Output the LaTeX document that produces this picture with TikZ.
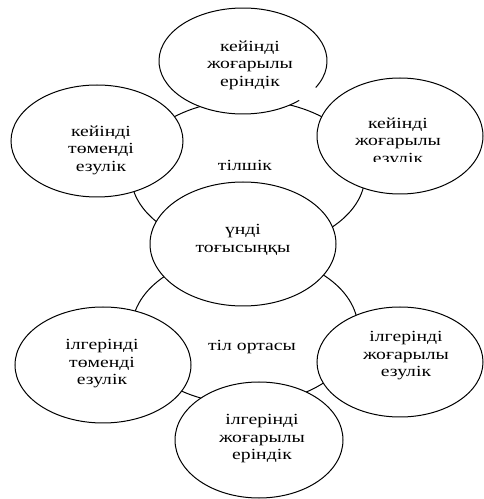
\documentclass[tikz,border=0pt]{standalone}
\usepackage{fontspec}
\setmainfont[FakeStretch=1.27]{Liberation Serif}
\usetikzlibrary{shapes.geometric}
\begin{document}
\begin{tikzpicture}[x=1pt,y=1pt,
  ell/.style={draw,ellipse,line width=1pt,inner sep=0pt},
  wfill/.style={ell,fill=white},
  txt/.style={align=center,inner sep=0pt,font=\fontsize{15.5}{17.5}\selectfont}]
\useasboundingbox (0,0) rectangle (483,499);
% rings
\node[ell,minimum width=234,minimum height=150] (ring1) at (248,324) {};
\node[ell,minimum width=226,minimum height=150] (ring2) at (245,170) {};
\node[txt] (tring1) at (245,334) {тілшік};
\node[txt] (tring2) at (252,152) {тіл ортасы};
% center
\node[wfill,minimum width=186,minimum height=124] (cen) at (243,255) {};
\node[txt] (tcen) at (243,259) {үнді\\тоғысыңқы};
% outer ellipses
\node[ell,draw=none,fill=white,minimum width=168,minimum height=106] (top) at (243,438) {};
\draw[line width=1pt] (top.center) ++(-30:84 and 53)
  arc[start angle=-30, end angle=312, x radius=84, y radius=53];
\node[txt] (ttop) at (250,434) {кейінді\\жоғарылы\\еріндік};
\node[wfill,minimum width=172,minimum height=112] (ltop) at (97,358) {};
\node[txt] (tltop) at (101,349) {кейінді\\төменді\\езулік};
\node[wfill,minimum width=166,minimum height=116] (rtop) at (400,363) {};
\begin{scope}
\clip (317,337) rectangle (483,420);
\node[txt] (trtop) at (398,357) {кейінді\\жоғарылы\\езулік};
\end{scope}
\node[wfill,minimum width=176,minimum height=116] (lbot) at (103,134) {};
\node[txt] (tlbot) at (102,135) {ілгерінді\\төменді\\езулік};
\node[wfill,minimum width=166,minimum height=110] (rbot) at (400,137) {};
\node[txt] (trbot) at (406,143) {ілгерінді\\жоғарылы\\езулік};
\node[wfill,minimum width=168,minimum height=116] (bot) at (259,59) {};
\node[txt] (tbot) at (262,60) {ілгерінді\\жоғарылы\\еріндік};
\end{tikzpicture}
\end{document}
